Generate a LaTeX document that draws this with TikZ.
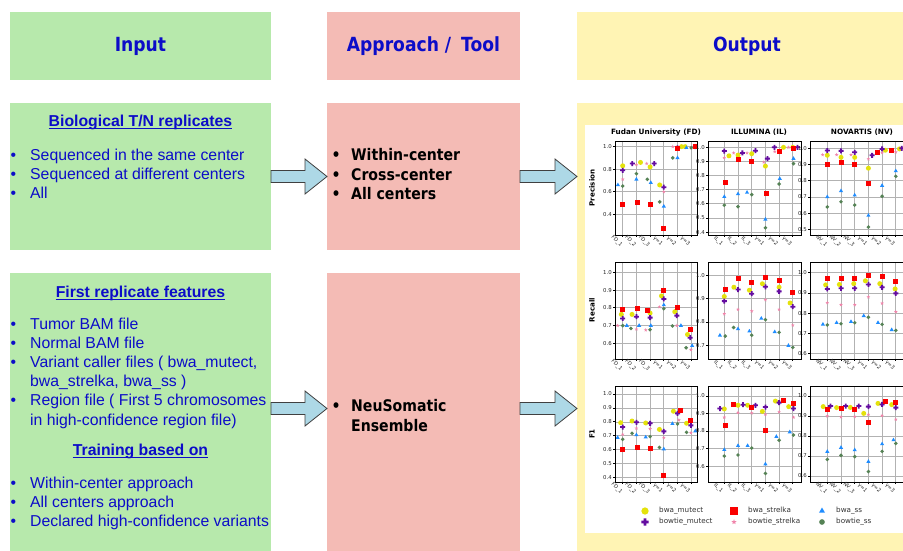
\documentclass[tikz,border=0pt]{standalone}
\usepackage{fontspec}
\setmainfont{Liberation Sans}
\newfontfamily\headfont[FakeStretch=0.88]{DejaVu Sans}
\newfontfamily\plotfont{DejaVu Sans}
\usepackage{xcolor}
\usetikzlibrary{positioning}
\usetikzlibrary{calc}

\definecolor{inputgreen}{RGB}{183,233,172}
\definecolor{toolpink}{RGB}{244,187,181}
\definecolor{outyellow}{RGB}{255,244,180}
\definecolor{inkblue}{RGB}{12,12,200}
\definecolor{arrowblue}{RGB}{173,216,230}
\definecolor{gridgray}{RGB}{178,178,178}
\definecolor{mutyellow}{RGB}{228,226,12}
\definecolor{mutpurple}{RGB}{100,12,160}
\definecolor{strred}{RGB}{250,0,0}
\definecolor{strpink}{RGB}{240,132,170}
\definecolor{ssblue}{RGB}{30,140,255}
\definecolor{ssgreen}{RGB}{85,130,85}

\tikzset{
  % Common styles for the scatter panels
  gridline/.style={draw=gridgray, line width=0.7pt},
  axisframe/.style={draw=black, line width=0.8pt},
  ytick/.style={anchor=east, inner sep=0.8pt, text=black!85, font=\plotfont\fontsize{5.4}{6}\selectfont},
  xtick/.style={anchor=center, rotate=-45, inner sep=0pt, text=black!85, font=\plotfont\fontsize{5.2}{6}\selectfont},
  paneltitle/.style={font=\plotfont\bfseries\fontsize{7.3}{8}\selectfont},
  axislabel/.style={rotate=90, font=\plotfont\bfseries\fontsize{7.1}{8}\selectfont},
  legendtext/.style={anchor=west, inner sep=0pt, text=black!80, font=\plotfont\fontsize{7.2}{8}\selectfont},
  panelaxes/.style={shift={(\porgx,\porgy)}, x=13.7pt, y=\pscale pt, yshift=-\poffset pt},
  % Markers, one per caller
  pics/bwamut/.style={code={\fill[mutyellow] (0,0) circle (2.5pt);}},
  pics/btmut/.style={code={\fill[mutpurple] (-2.5pt,-0.9pt) rectangle (2.5pt,0.9pt) (-0.9pt,-2.5pt) rectangle (0.9pt,2.5pt);}},
  pics/bwastr/.style={code={\fill[strred] (-2.5pt,-2.5pt) rectangle (2.5pt,2.5pt);}},
  pics/btstr/.style={code={\fill[strpink] (90:1.9pt) -- (126:0.8pt) -- (162:1.9pt) -- (198:0.8pt) -- (234:1.9pt) -- (270:0.8pt) -- (306:1.9pt) -- (342:0.8pt) -- (18:1.9pt) -- (54:0.8pt) -- cycle;}},
  pics/bwass/.style={code={\fill[ssblue] (90:2.4pt) -- (210:2.4pt) -- (330:2.4pt) -- cycle;}},
  pics/btss/.style={code={\fill[ssgreen] (0,0) circle (1.95pt);}}
}

% list bullets
\newcommand{\itm}{\makebox[19.5pt][l]{\textbullet}}

% axes of one panel: left, right, top, bottom, first tick, ymin, ymax
\newcommand{\setpanel}[7]{%
  \pgfmathsetmacro{\pscale}{(#4-#3)/(#7-#6)}%
  \pgfmathsetmacro{\poffset}{#6*\pscale}%
  \pgfmathsetmacro{\pxmin}{(#1-#5)/13.7}%
  \pgfmathsetmacro{\pxmax}{(#2-#5)/13.7}%
  \def\pymin{#6}\def\pymax{#7}\def\porgx{#5}\def\porgy{#4}%
}

% grid, points and frame: y ticks, category labels, caller/{x/value} lists
\newcommand{\drawpanel}[3]{%
  \begin{scope}[panelaxes]
    \draw[gridline] foreach \i in {0,...,5} {(\i,\pymin) -- (\i,\pymax)};
    \draw[gridline] foreach \t in {#1} {(\pxmin,\t) -- (\pxmax,\t)};
    \foreach \s/\pts in {#3} {\foreach \x/\v in \pts {\pic at (\x,\v) {\s};}}
    \draw[axisframe] (\pxmin,\pymin) rectangle (\pxmax,\pymax);
    \foreach \t in {#1} {\draw[axisframe] (\pxmin,\t) -- ++(-2pt,0pt) node[ytick] {\t};}
    \foreach \lab [count=\i from 0] in {#2} {
      \draw[axisframe] (\i,\pymin) -- ++(0pt,-2pt);
      \node[xtick, yshift=-8.5pt] at (\i,\pymin) {\lab};
    }
  \end{scope}
}

% block arrow between two boxes at height #3
\newcommand{\fatarrow}[3]{%
  \coordinate (level) at (0,#3);
  \coordinate (tail) at (#1.east |- level);
  \coordinate (tip) at (#2.west |- level);
  \draw[fat] ($(tail)+(0,-6)$) -- ($(tip)+(-22,-6)$) -- ($(tip)+(-22,-17.5)$) -- (tip)
    -- ($(tip)+(-22,17.5)$) -- ($(tip)+(-22,6)$) -- ($(tail)+(0,6)$) -- cycle;
}

\begin{document}
\begin{tikzpicture}[x=1pt, y=-1pt]
    % Define styles
    \tikzstyle{area} = [rectangle, draw=none, inner sep=0pt, outer sep=0pt]
    \tikzstyle{headtext} = [text=inkblue, font=\headfont\bfseries\fontsize{19.5}{23}\selectfont]
    \tikzstyle{listtext} = [anchor=base west, inner sep=0pt, text=inkblue, font=\fontsize{15.8}{19.2}\selectfont]
    \tikzstyle{listhead} = [anchor=base, inner sep=0pt, text=inkblue, font=\bfseries\fontsize{15.8}{19.2}\selectfont]
    \tikzstyle{tooltext} = [anchor=base west, inner sep=0pt, font=\headfont\bfseries\fontsize{16}{19.4}\selectfont]
    \tikzstyle{fat} = [draw=black!75, fill=arrowblue, line width=0.8pt, line join=miter]

    \useasboundingbox (0,0) rectangle (903,551);
    \clip (0,0) rectangle (903,551);

    % Place nodes
    \node [area, fill=inputgreen, minimum width=261pt, minimum height=68pt, anchor=north west, headtext] (inputhead) at (10,12) {Input};
    \node [area, fill=toolpink, minimum width=193pt, minimum height=68pt, right=56pt of inputhead, headtext] (toolhead) {Approach /\hspace{4pt} Tool};
    \node [area, fill=outyellow, minimum width=340pt, minimum height=68pt, right=57pt of toolhead, headtext] (outhead) {Output};
    \node [area, fill=inputgreen, minimum width=261pt, minimum height=147pt, below=23pt of inputhead] (repbox) {};
    \node [area, fill=toolpink, minimum width=193pt, minimum height=147pt, below=23pt of toolhead] (centerbox) {};
    \node [area, fill=inputgreen, minimum width=261pt, minimum height=278pt, below=23pt of repbox] (featbox) {};
    \node [area, fill=toolpink, minimum width=193pt, minimum height=278pt, below=23pt of centerbox] (ensbox) {};
    \node [area, fill=outyellow, minimum width=340pt, minimum height=448pt, below=23pt of outhead] (outbox) {};
    \node [area, fill=white, minimum width=330pt, minimum height=408pt, anchor=north west] (chartarea) at (585,125) {};

    % Input texts
    \node [listhead] (reptitle) at (140.5,126.5) {Biological T/N replicates};
    \draw [inkblue, line width=0.9pt] ($(reptitle.base west)+(0,2)$) -- ($(reptitle.base east)+(0,2)$);
    \node [listtext] (replist) at (10.5,160.5) {\begin{tabular}[t]{@{}l@{}}
      \itm Sequenced in the same center\\
      \itm Sequenced at different centers\\
      \itm All\end{tabular}};
    \node [listhead] (feattitle) at (140.5,297) {First replicate features};
    \draw [inkblue, line width=0.9pt] ($(feattitle.base west)+(0,2)$) -- ($(feattitle.base east)+(0,2)$);
    \node [listtext] (featlist) at (10.5,329) {\begin{tabular}[t]{@{}l@{}}
      \itm Tumor BAM file\\
      \itm Normal BAM file\\
      \itm Variant caller files ( bwa\_mutect,\\
      \hspace*{19.5pt}bwa\_strelka, bwa\_ss )\\
      \itm Region file ( First 5 chromosomes\\
      \hspace*{19.5pt}in high-confidence region file)\end{tabular}};
    \node [listhead] (traintitle) at (140.5,455) {Training based on};
    \draw [inkblue, line width=0.9pt] ($(traintitle.base west)+(0,2)$) -- ($(traintitle.base east)+(0,2)$);
    \node [listtext] (trainlist) at (10.5,488) {\begin{tabular}[t]{@{}l@{}}
      \itm Within-center approach\\
      \itm All centers approach\\
      \itm Declared high-confidence variants\end{tabular}};

    % Approach texts
    \node [tooltext] (centerlist) at (331.5,160.7) {\begin{tabular}[t]{@{}l@{}}
      \itm Within-center\\
      \itm Cross-center\\
      \itm All centers\end{tabular}};
    \node [tooltext] (enslist) at (331.5,411.7) {\begin{tabular}[t]{@{}l@{}}
      \itm NeuSomatic\\
      \hspace*{19.5pt}Ensemble\end{tabular}};

    % Draw edges
    \fatarrow{repbox}{centerbox}{176.5}
    \fatarrow{centerbox}{outbox}{176.5}
    \fatarrow{featbox}{ensbox}{408.5}
    \fatarrow{ensbox}{outbox}{408.5}

    % Precision row
    \setpanel{615}{697}{141}{235}{622.7}{0.216}{1.05}
    \drawpanel{0.4,0.6,0.8,1.0}{FD\_1,FD\_2,FD\_3,γ=1,γ=2,γ=3}{
      bwamut/{0/0.83,1.3/0.86,2/0.82,2.7/0.66,4.3/1.0,4.56/1.0},
      btmut/{0/0.79,0.7/0.85,2.3/0.85,3/0.64,4/0.99,5.3/1.0},
      bwastr/{0/0.49,1.05/0.50,2/0.49,3/0.27,4/0.98,5.3/1.0},
      btstr/{0/0.71,1/0.84,1.75/0.85,3/0.60,3.65/1.0,5/0.99},
      bwass/{-0.35/0.66,1/0.71,2.05/0.68,3/0.47,4/0.90,4.65/0.99},
      btss/{0/0.65,1/0.76,1.8/0.71,2.7/0.51,3.65/0.90,5/0.99}}
    \setpanel{708}{801}{141}{235}{724.3}{0.379}{1.045}
    \drawpanel{0.4,0.5,0.6,0.7,0.8,0.9,1.0}{IL\_1,IL\_2,IL\_3,γ=1,γ=2,γ=3}{
      bwamut/{0.34/0.94,1/0.945,2/0.955,3/0.867,4.32/1.0,5/1.0},
      btmut/{0/0.974,1.32/0.96,2.27/0.976,3.15/0.92,3.66/1.0,5.34/1.0},
      bwastr/{0.07/0.75,1/0.915,2/0.90,3.07/0.674,4/0.97,5.05/0.99},
      btstr/{0/0.927,0.68/0.96,1.66/0.96,2.88/0.895,3.68/0.97,4.68/1.0},
      bwass/{0/0.65,1/0.67,1.66/0.68,3/0.49,4.05/0.778,5.05/0.92},
      btss/{0/0.59,1/0.58,2/0.665,3/0.43,4/0.74,5.05/0.885}}
    \setpanel{810}{904}{141}{235}{827.3}{0.465}{1.045}
    \drawpanel{0.5,0.6,0.7,0.8,0.9,1.0}{NV\_1,NV\_2,NV\_3,γ=1,γ=2,γ=3}{
      bwamut/{0/0.957,1/0.944,2/0.944,3/0.877,4.24/0.988,5.27/0.996},
      btmut/{0/0.986,1/0.984,2/0.975,3.27/0.957,4/0.996,5.44/1.0},
      bwastr/{0/0.897,1/0.91,2/0.90,3/0.78,3.66/0.975,4.66/0.988},
      btstr/{-0.34/0.96,0.68/0.96,1.73/0.96,3/0.934,4/0.973,5/0.977},
      bwass/{0/0.70,1/0.737,2/0.71,3/0.585,4/0.77,5/0.86},
      btss/{0/0.638,1/0.67,2/0.65,3/0.514,4/0.704,5/0.827}}

    % Recall row
    \setpanel{615}{697}{262}{359}{622.7}{0.512}{1.058}
    \drawpanel{0.6,0.7,0.8,0.9,1.0}{FD\_1,FD\_2,FD\_3,γ=1,γ=2,γ=3}{
      bwamut/{-0.1/0.763,0.68/0.763,2/0.77,2.83/0.867,3.8/0.778,4.73/0.65},
      btmut/{0/0.74,1/0.75,2/0.745,3/0.85,3.95/0.756,4.93/0.632},
      bwastr/{0/0.79,1.05/0.797,1.8/0.784,3/0.895,4/0.80,4.98/0.68},
      btstr/{-0.37/0.70,1/0.68,1.68/0.675,2.68/0.805,3.95/0.70,4.98/0.564},
      bwass/{0.3/0.70,1.2/0.70,2.05/0.70,3/0.816,4.25/0.70,5.07/0.587},
      btss/{0/0.70,0.6/0.684,2/0.677,3/0.795,3.63/0.698,4.63/0.575}}
    \setpanel{708}{801}{262}{359}{724.3}{0.64}{1.059}
    \drawpanel{0.7,0.8,0.9,1.0}{IL\_1,IL\_2,IL\_3,γ=1,γ=2,γ=3}{
      bwamut/{0/0.91,0.7/0.95,1.83/0.937,2.78/0.965,4/0.95,4.8/0.882},
      btmut/{0/0.89,1/0.94,2/0.922,3/0.952,4/0.932,5/0.866},
      bwastr/{0.07/0.94,1/0.988,2/0.97,3/0.993,4/0.98,5/0.928},
      btstr/{0/0.835,1/0.854,2/0.847,3/0.896,4/0.854,5/0.786},
      bwass/{-0.32/0.742,1/0.77,1.83/0.76,2.7/0.815,3.68/0.757,4.68/0.698},
      btss/{0.07/0.739,0.68/0.776,2/0.743,3/0.81,4/0.755,5/0.69}}
    \setpanel{810}{904}{262}{359}{827.3}{0.574}{1.053}
    \drawpanel{0.6,0.7,0.8,0.9,1.0}{NV\_1,NV\_2,NV\_3,γ=1,γ=2,γ=3}{
      bwamut/{-0.12/0.94,0.88/0.942,1.93/0.946,2.78/0.96,3.83/0.946,4.95/0.92},
      btmut/{0/0.92,1/0.923,2/0.923,3/0.942,4/0.928,5/0.898},
      bwastr/{0/0.972,1/0.972,2/0.972,3/0.988,4/0.979,5/0.959},
      btstr/{0/0.852,1/0.842,2/0.842,3/0.88,4/0.849,5/0.807},
      bwass/{-0.32/0.745,0.68/0.753,1.73/0.758,2.66/0.787,3.7/0.753,4.7/0.718},
      btss/{0/0.742,1/0.748,2/0.753,3/0.78,4/0.745,5/0.715}}

    % F1 row
    \setpanel{615}{697}{386}{482}{622.7}{0.369}{1.057}
    \drawpanel{0.4,0.5,0.6,0.7,0.8,0.9,1.0}{FD\_1,FD\_2,FD\_3,γ=1,γ=2,γ=3}{
      bwamut/{-0.15/0.794,0.68/0.806,1.68/0.792,2.68/0.746,3.7/0.876,4.66/0.79},
      btmut/{0/0.763,1/0.797,2/0.79,3/0.732,4/0.861,4.98/0.775},
      bwastr/{0/0.603,1.05/0.615,2/0.608,3/0.416,4.2/0.883,4.98/0.81},
      btstr/{0/0.71,1/0.754,2/0.75,3/0.687,4.1/0.813,4.98/0.722},
      bwass/{-0.37/0.687,1/0.706,1.68/0.69,3/0.605,3.63/0.787,5.3/0.734},
      btss/{0/0.675,0.68/0.718,2/0.694,2.68/0.617,4/0.785,4.66/0.725}}
    \setpanel{708}{801}{386}{482}{724.3}{0.509}{1.057}
    \drawpanel{0.6,0.7,0.8,0.9,1.0}{IL\_1,IL\_2,IL\_3,γ=1,γ=2,γ=3}{
      bwamut/{0/0.926,1/0.947,1.7/0.947,2.78/0.912,3.73/0.971,4.7/0.939},
      btmut/{-0.32/0.928,1.37/0.95,2.27/0.947,3/0.937,4/0.962,5.05/0.928},
      bwastr/{0.07/0.834,0.7/0.95,2/0.933,3/0.804,4.3/0.973,5.05/0.958},
      btstr/{0/0.878,1/0.905,2/0.903,3/0.895,4/0.909,5.05/0.878},
      bwass/{0/0.693,1/0.716,1.7/0.716,3/0.611,3.8/0.768,4.78/0.794},
      btss/{0/0.657,1/0.663,2/0.703,3/0.558,4/0.747,5.05/0.777}}
    \setpanel{810}{904}{386}{482}{827.3}{0.57}{1.05}
    \drawpanel{0.6,0.7,0.8,0.9,1.0}{NV\_1,NV\_2,NV\_3,γ=1,γ=2,γ=3}{
      bwamut/{-0.3/0.947,0.68/0.942,1.68/0.943,2.66/0.913,3.7/0.963,4.7/0.957},
      btmut/{0.24/0.95,1.34/0.95,2.3/0.95,3/0.947,4/0.958,5/0.942},
      bwastr/{0/0.933,1/0.937,2/0.933,3/0.868,4.27/0.972,5/0.967},
      btstr/{0/0.90,1/0.895,2/0.897,3/0.907,4/0.902,5/0.883},
      bwass/{0/0.722,1/0.742,2/0.73,3/0.672,4/0.76,4.83/0.78},
      btss/{0/0.683,1/0.703,2/0.697,3/0.622,4/0.723,5/0.763}}

    % Panel titles and axis names
    \node [paneltitle] (fdtitle) at (656,132.5) {Fudan University (FD)};
    \node [paneltitle] (iltitle) at (759,132.5) {ILLUMINA (IL)};
    \node [paneltitle] (nvtitle) at (862,132.5) {NOVARTIS (NV)};
    \node [axislabel] (preclabel) at (592,188) {Precision};
    \node [axislabel] (recalllabel) at (592,310) {Recall};
    \node [axislabel] (f1label) at (592,434) {F1};

    % Legend
    \foreach \s/\lab/\lx/\ly in {bwamut/bwa\_mutect/645/511, btmut/bowtie\_mutect/645/522,
        bwastr/bwa\_strelka/734/511, btstr/bowtie\_strelka/734/522,
        bwass/bwa\_ss/822/511, btss/bowtie\_ss/822/522} {
      \pic [scale=1.45] at (\lx,\ly) {\s};
      \node [legendtext] at (\lx+14,\ly) {\lab};
    }
\end{tikzpicture}
\end{document}
